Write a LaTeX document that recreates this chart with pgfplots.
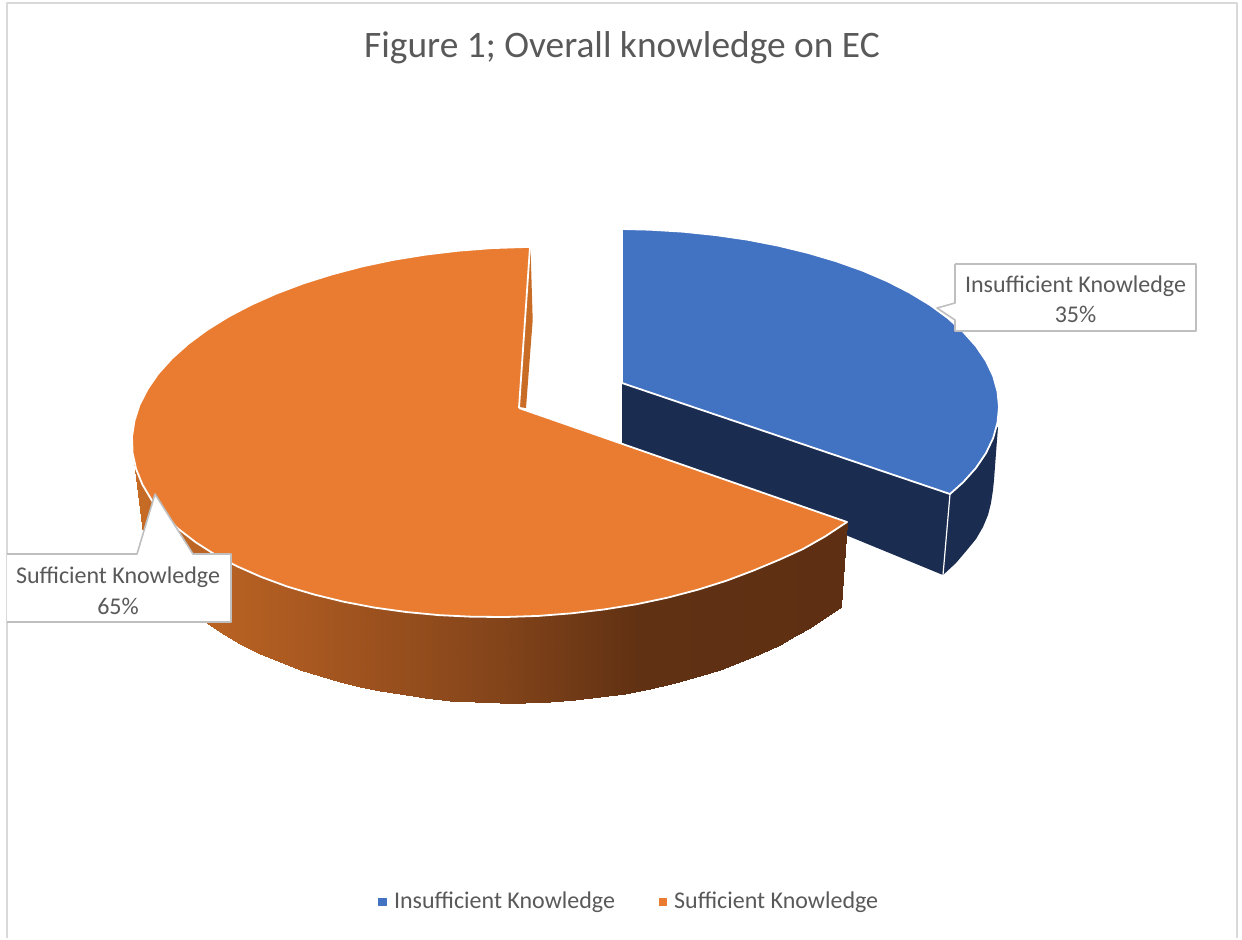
\documentclass[border=0pt]{standalone}
\usepackage{fontspec}
\setmainfont{Carlito}
\usepackage{pgfplots}
\pgfplotsset{compat=1.18}
\definecolor{pieblue}{HTML}{4272C2}
\definecolor{pieorange}{HTML}{EA7C31}
\definecolor{navy}{HTML}{1A2C50}
\definecolor{sliver}{HTML}{C96C26}
\definecolor{inktext}{HTML}{595959}
\definecolor{frameline}{HTML}{D9D9D9}
\definecolor{calloutline}{HTML}{BFBFBF}
\begin{document}
\begin{tikzpicture}
\begin{axis}[
  scale only axis, width=621pt, height=469pt,
  xmin=0, xmax=1242, ymin=0, ymax=938, y dir=reverse,
  hide axis, clip=false,
  every axis plot/.append style={forget plot, line join=round},
  colormap={wall}{rgb255(0pt)=(199,108,38); rgb255(156pt)=(172,90,33); rgb255(366pt)=(131,68,26); rgb255(506pt)=(96,49,19); rgb255(713pt)=(94,47,18)},
  point meta min=134, point meta max=847,
  legend columns=2,
  legend style={at={(axis cs:630.5,902)}, anchor=center, draw=none, fill=none,
    font=\fontsize{12}{14}\selectfont, text=inktext,
    /tikz/every odd column/.append style={column sep=2pt},
    /tikz/every even column/.append style={column sep=20pt}},
]
% chart frame
\addplot[draw=frameline, line width=1pt] coordinates {(7,938) (7,3) (1237,3) (1237,938)};

% Insufficient Knowledge: inner cut face
\addplot[fill=navy, draw=none] coordinates {(622,383) (950,494) (943,575) (622,443) (622,383)};
% Insufficient Knowledge: outer wall
\addplot[fill=navy, draw=none] coordinates {
  (950,494) (943,575) (956,563) (967,550) (976,539) (983,527) (988,515) (991,503)
  (993,490) (994,480) (996,453) (998,427) (960,440) (950,494)};
% Insufficient Knowledge: edge between the two walls
\addplot[draw=white, line width=0.6pt] coordinates {(950,494) (943,575)};
% Insufficient Knowledge: top face
\addplot[fill=pieblue, draw=white, line width=0.9pt] coordinates {
  (622,383) (622,229) (650.3,229.7) (683.3,231.7) (715.9,235.1) (747.6,239.7) (778.4,245.7)
  (808,252.9) (836.1,261.2) (862.6,270.6) (887.1,281.1) (909.6,292.6) (929.9,304.9)
  (947.8,318) (963.2,331.8) (976,346.1) (986,360.9) (993.2,376) (997.5,391.5) (999,407)
  (997.5,422.5) (993.2,438) (986,453.1) (976,467.9) (963.2,482.2) (950,494) (622,383)};

% Sufficient Knowledge: outer wall, shaded along x
\addplot[surf, shader=interp, point meta=x] table {
x y
134 445
134 462

143 440
143 533

160 470
160 565

180 500
180 598

205 520
205 622

220 520
220 631.9

240 520
240 643.6

260 520
260 653.5

280 520
280 662.2

300 520
300 669.6

320 520
320 676

340 520
340 681.8

360 520
360 686.8

380 520
380 691

400 520
400 694.4

425 520
425 697.9

450 520
450 700.5

475 520
475 702.2

500 520
500 703

525 520
525 702.8

550 520
550 701.8

575 520
575 700

600 520
600 697.2

625 520
625 693.7

650 520
650 689

675 520
675 683

700 520
700 676

720 520
720 669.6

740 520
740 662.2

760 520
760 653.5

780 520
780 645

795 522
795 636

810 525
810 628

847 522
841 607
};
% Sufficient Knowledge: inner cut face, seen edge-on
\addplot[fill=sliver, draw=none] coordinates {(530.5,247) (532.7,320) (526,408) (519,407) (530.5,247)};
% Sufficient Knowledge: top face
\addplot[fill=pieorange, draw=white, line width=0.9pt] coordinates {
  (519,408) (530,247) (525,247) (491.6,248.1) (458.3,250.7) (425.6,254.6) (393.4,259.8)
  (362.2,266.4) (332.2,274.3) (303.5,283.3) (276.5,293.5) (251.3,304.7) (228,316.9)
  (207,330) (188.3,343.8) (172.1,358.3) (158.4,373.4) (147.7,388.9) (139.5,404.8)
  (134.4,420.9) (132,437) (132.6,453.1) (136.1,469) (142.5,484.7) (151.6,500) (163.7,514.7)
  (178.3,528.8) (195.6,542.2) (215.2,554.7) (237.1,566.3) (261.1,576.9) (287.1,586.5)
  (314.8,594.7) (344,601.8) (374.6,607.6) (406.2,612) (438.7,615.1) (471.6,616.7) (505,617)
  (538.4,615.9) (571.7,613.3) (604.4,609.4) (636.6,604.2) (667.8,597.6) (697.8,589.7)
  (726.5,580.7) (753.5,570.5) (778.7,560) (803,549) (825,536.5) (847,522) (519,408)};

% data label callouts
\addplot[fill=white, draw=calloutline, line width=0.8pt] coordinates {
  (955,264) (1196,264) (1196,331) (955,331) (955,320) (937,308) (955,303) (955,264)};
\addplot[fill=white, draw=calloutline, line width=0.8pt] coordinates {
  (7,554) (137,554) (155,494) (193,554) (231,554) (231,622) (7,622)};

\node[text=inktext, font=\fontsize{18.7}{22}\selectfont, anchor=center] at (axis cs:622,48) {Figure 1; Overall knowledge on EC};
\node[text=inktext, font=\fontsize{12}{14}\selectfont, anchor=center] at (axis cs:1075.5,286) {Insufficient Knowledge};
\node[text=inktext, font=\fontsize{12}{14}\selectfont, anchor=center] at (axis cs:1075.5,314) {35\%};
\node[text=inktext, font=\fontsize{12}{14}\selectfont, anchor=center] at (axis cs:118,577) {Sufficient Knowledge};
\node[text=inktext, font=\fontsize{12}{14}\selectfont, anchor=center] at (axis cs:118,606) {65\%};

\addlegendimage{only marks, mark=square*, mark size=1.8pt, color=pieblue}
\addlegendentry{Insufficient Knowledge}
\addlegendimage{only marks, mark=square*, mark size=1.8pt, color=pieorange}
\addlegendentry{Sufficient Knowledge}

% keeps the page at the full frame size
\path (axis cs:0,0) -- (axis cs:1242,938);
\end{axis}
\end{tikzpicture}
\end{document}
